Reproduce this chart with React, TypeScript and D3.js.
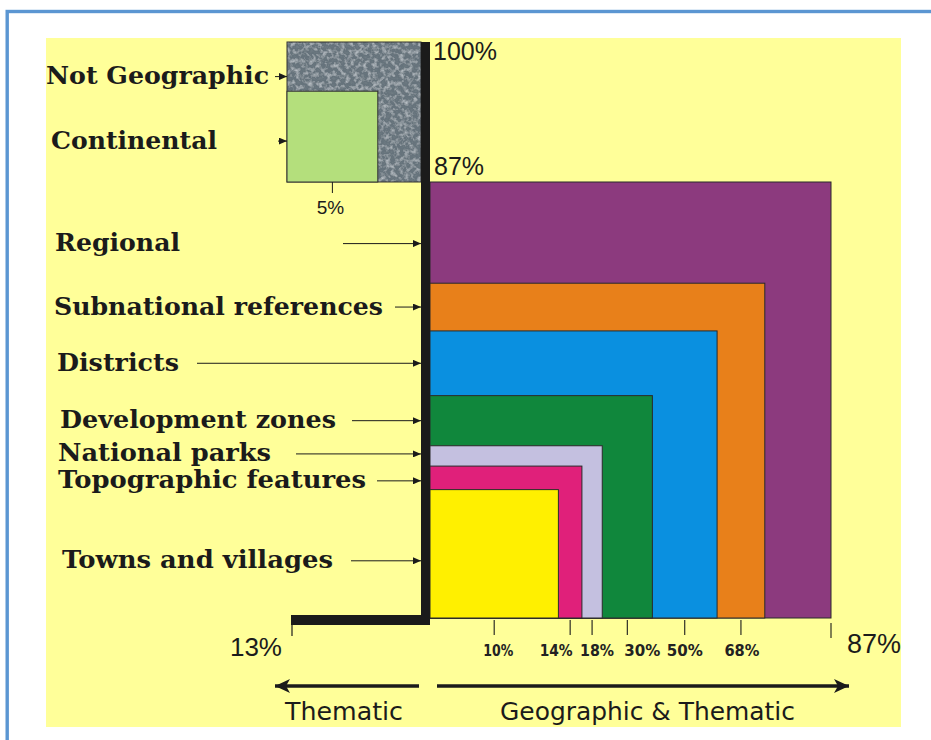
import React from "react";
import * as d3 from "d3";

// ---------- data ----------
const geoCategories = [
  "Towns and villages",
  "Topographic features",
  "National parks",
  "Development zones",
  "Districts",
  "Subnational references",
  "Regional",
];
const geoCumulative = [10, 14, 18, 30, 50, 68, 87];
const geoColors = ["#fff000", "#e0207a", "#c4c0e0", "#10873c", "#0a90e0", "#e8801a", "#8c3a7e"];

const thematicCategories = ["Continental", "Not Geographic"];
const thematicValues = [5, 13];
const thematicColors = ["#b4df7c", "#66737c"];

const verticalTickLabels = ["100%", "87%"];
const horizontalEndLabels = ["13%", "87%"];
const directionLabels = ["Thematic", "Geographic & Thematic"];

// ---------- layout / style (not data) ----------
const W = 931;
const H = 740;
const axisX = 430; // left edge of geographic squares
const baseY = 618; // bottom of geographic squares
const geoRight = 831; // 87% end of geographic frame
const geoTop = 182; // 87% level on vertical axis
const topY = 42; // 100% level
const barLeft = 421;
const grayLeft = 287;
const thematicTickX = 292;

const labelLayout: Record<string, { x: number; w: number; arrowFrom: number; dy: number }> = {
  "Not Geographic": { x: 46, w: 223, arrowFrom: 275, dy: 10 },
  Continental: { x: 51, w: 166, arrowFrom: 278, dy: 4.5 },
  Regional: { x: 55, w: 125, arrowFrom: 343, dy: 11 },
  "Subnational references": { x: 54, w: 329, arrowFrom: 395, dy: 0 },
  Districts: { x: 57, w: 122, arrowFrom: 197, dy: 0 },
  "Development zones": { x: 60, w: 276, arrowFrom: 352, dy: 0 },
  "National parks": { x: 58, w: 213, arrowFrom: 296, dy: -2 },
  "Topographic features": { x: 58, w: 308, arrowFrom: 377, dy: 3 },
  "Towns and villages": { x: 62, w: 271, arrowFrom: 351, dy: 7 },
};
const tickLabelDx = [4, -14, 5, 15, 0, 1];
const tickLabelW = [30, 33, 34, 36, 36, 35];

export default function App() {
  // area-proportional squares: side ∝ sqrt(percent)
  const side = d3.scaleSqrt().domain([0, 100]).range([0, 406]);
  const n = geoCumulative.length;

  const geoRects = geoCumulative.map((v, i) => {
    const outer = i === n - 1;
    const w = outer ? geoRight - axisX : side(v);
    const h = outer ? baseY - geoTop : side(v);
    return { name: geoCategories[i], v, x: axisX, y: baseY - h, w, h, color: geoColors[i] };
  });

  const ticks = geoCumulative.map((v, i) => {
    if (i === n - 1) return geoRight;
    const prev = i === 0 ? 0 : side(geoCumulative[i - 1]);
    return axisX + (prev + side(v)) / 2;
  });
  const fmt = (v: number) => d3.format("d")(v) + "%";

  const bandTop = geoRects.map((r) => r.y);
  const bandCenters = geoRects.map((r, i) => {
    const lower = i === 0 ? baseY : bandTop[i - 1];
    return (r.y + lower) / 2;
  });

  const grayRect = { x: grayLeft, y: topY, w: barLeft - grayLeft, h: geoTop - topY };
  const contSide = side(thematicValues[0]);
  const contRect = { x: grayLeft, y: geoTop - contSide, w: contSide, h: contSide };
  const thematicCenters = [(contRect.y + geoTop) / 2, (topY + contRect.y) / 2];

  const serif = "'DejaVu Serif', 'Liberation Serif', serif";
  const sans = "'Liberation Sans', Arial, sans-serif";
  const comic = "'DejaVu Sans', sans-serif";
  const ink = "#1b1b1b";

  const labelItems = [
    ...thematicCategories.map((c, i) => ({ name: c, y: thematicCenters[i], to: grayLeft })),
    ...geoCategories.map((c, i) => ({ name: c, y: bandCenters[i], to: barLeft })),
  ];

  return (
    <svg
      width={W}
      height={H}
      viewBox={`0 0 ${W} ${H}`}
      style={{ position: "absolute", left: 0, top: 0, display: "block", background: "#fff" }}
    >
      <defs>
        <marker id="ah" markerUnits="userSpaceOnUse" markerWidth={9} markerHeight={7} refX={8} refY={3.5} orient="auto">
          <path d="M0,0 L8,3.5 L0,7 Z" fill={ink} />
        </marker>
        <marker id="bigAh" markerUnits="userSpaceOnUse" markerWidth={16} markerHeight={14} refX={15} refY={7} orient="auto">
          <path d="M0,0 L15,7 L0,14 L4,7 Z" fill={ink} />
        </marker>
        <filter id="stone" x="0" y="0" width="100%" height="100%">
          <feTurbulence type="fractalNoise" baseFrequency="0.22" numOctaves={3} seed={7} result="n" />
          <feColorMatrix
            in="n"
            type="matrix"
            values="0 0 0 0 0.72  0 0 0 0 0.76  0 0 0 0 0.8  1.4 0 0 0 -0.62"
            result="light"
          />
          <feComposite in="light" in2="SourceGraphic" operator="in" result="lc" />
          <feColorMatrix
            in="n"
            type="matrix"
            values="0 0 0 0 0.22  0 0 0 0 0.26  0 0 0 0 0.29  -1.4 0 0 0 0.52"
            result="dark"
          />
          <feComposite in="dark" in2="SourceGraphic" operator="in" result="dc" />
          <feMerge>
            <feMergeNode in="SourceGraphic" />
            <feMergeNode in="lc" />
            <feMergeNode in="dc" />
          </feMerge>
        </filter>
      </defs>

      {/* outer frame */}
      <rect x={7.2} y={11.5} width={1000} height={1000} fill="#fff" stroke="#5b96d2" strokeWidth={3.4} />
      <rect x={46} y={38} width={855} height={689} fill="#ffff99" />

      {/* thematic (non-geographic) quadrant */}
      <rect x={grayRect.x} y={grayRect.y} width={grayRect.w} height={grayRect.h} fill={thematicColors[1]} filter="url(#stone)" />
      <rect x={grayRect.x} y={grayRect.y} width={grayRect.w} height={grayRect.h} fill="none" stroke="#333" strokeWidth={1} />
      <rect x={contRect.x} y={contRect.y} width={contRect.w} height={contRect.h} fill={thematicColors[0]} stroke="#333" strokeWidth={1} />
      <line x1={contRect.x + contSide / 2} x2={contRect.x + contSide / 2} y1={geoTop} y2={geoTop + 11} stroke={ink} strokeWidth={1} />
      <text x={contRect.x + contSide / 2 - 2} y={214} textAnchor="middle" fontFamily={sans} fontSize={19} fill={ink}>
        {fmt(thematicValues[0])}
      </text>

      {/* geographic squares, largest first */}
      {[...geoRects].reverse().map((r) => (
        <rect key={r.name} x={r.x} y={r.y} width={r.w} height={r.h} fill={r.color} stroke="#2a2a2a" strokeWidth={1} />
      ))}

      {/* thick axis bar */}
      <rect x={barLeft} y={topY} width={9} height={baseY + 7 - topY} fill={ink} />
      <rect x={thematicTickX - 1} y={615} width={barLeft + 9 - thematicTickX + 1} height={10} fill={ink} />

      {/* vertical axis labels */}
      <text x={433} y={60} fontFamily={sans} fontSize={25} fill={ink}>{verticalTickLabels[0]}</text>
      <text x={434} y={175} fontFamily={sans} fontSize={25} fill={ink}>{verticalTickLabels[1]}</text>

      {/* bottom ticks */}
      <line x1={thematicTickX} x2={thematicTickX} y1={625} y2={636} stroke={ink} strokeWidth={1.2} />
      {ticks.map((t, i) => (
        <line key={"t" + i} x1={t} x2={t} y1={i === n - 1 ? 623 : 620} y2={i === n - 1 ? 638 : 635} stroke={ink} strokeWidth={1.1} />
      ))}
      {geoCumulative.slice(0, n - 1).map((v, i) => (
        <text
          key={"tl" + i}
          x={ticks[i] + tickLabelDx[i]}
          y={656}
          textAnchor="middle"
          fontFamily={comic}
          fontWeight="bold"
          fontSize={16}
          textLength={tickLabelW[i]}
          lengthAdjust="spacingAndGlyphs"
          fill="#222"
        >
          {fmt(v)}
        </text>
      ))}
      <text x={282} y={656} textAnchor="end" fontFamily={sans} fontSize={26} fill={ink}>{horizontalEndLabels[0]}</text>
      <text x={847} y={653} fontFamily={sans} fontSize={27} fill={ink}>{horizontalEndLabels[1]}</text>

      {/* direction arrows */}
      <line x1={419} x2={275} y1={686} y2={686} stroke={ink} strokeWidth={3.5} markerEnd="url(#bigAh)" />
      <line x1={437} x2={849} y1={686} y2={686} stroke={ink} strokeWidth={3.5} markerEnd="url(#bigAh)" />
      <text x={285} y={720} fontFamily={comic} fontSize={25} textLength={118} lengthAdjust="spacingAndGlyphs" fill={ink}>
        {directionLabels[0]}
      </text>
      <text x={500} y={720} fontFamily={comic} fontSize={25} textLength={295} lengthAdjust="spacingAndGlyphs" fill={ink}>
        {directionLabels[1]}
      </text>

      {/* category labels with arrows */}
      {labelItems.map((it) => {
        const L = labelLayout[it.name];
        const ay = it.y + L.dy;
        return (
          <g key={it.name}>
            <line x1={L.arrowFrom} x2={it.to} y1={ay} y2={ay} stroke={ink} strokeWidth={1} markerEnd="url(#ah)" />
            <text
              x={L.x}
              y={ay + 7.5}
              fontFamily={serif}
              fontWeight="bold"
              fontSize={25}
              textLength={L.w}
              lengthAdjust="spacingAndGlyphs"
              fill={ink}
            >
              {it.name}
            </text>
          </g>
        );
      })}
    </svg>
  );
}
